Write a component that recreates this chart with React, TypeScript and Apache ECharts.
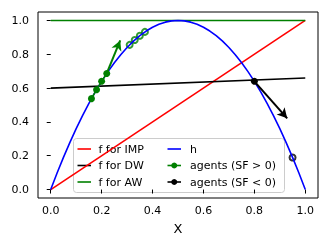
import React, { useEffect, useRef } from "react";
import * as echarts from "echarts";

const xGrid = [
  0, 0.025, 0.05, 0.075, 0.1, 0.125, 0.15, 0.175, 0.2, 0.225, 0.25, 0.275, 0.3, 0.325, 0.35, 0.375, 0.4,
  0.425, 0.45, 0.475, 0.5, 0.525, 0.55, 0.575, 0.6, 0.625, 0.65, 0.675, 0.7, 0.725, 0.75, 0.775, 0.8,
  0.825, 0.85, 0.875, 0.9, 0.925, 0.95, 0.975, 1,
];
const hValues = [
  0, 0.0975, 0.19, 0.2775, 0.36, 0.4375, 0.51, 0.5775, 0.64, 0.6975, 0.75, 0.7975, 0.84, 0.8775, 0.91,
  0.9375, 0.96, 0.9775, 0.99, 0.9975, 1, 0.9975, 0.99, 0.9775, 0.96, 0.9375, 0.91, 0.8775, 0.84, 0.7975,
  0.75, 0.6975, 0.64, 0.5775, 0.51, 0.4375, 0.36, 0.2775, 0.19, 0.0975, 0,
];
const fEnds = [0, 1];
const fIMP = [0, 1];
const fDW = [0.6, 0.66];
const fAW = [1, 1];

const agentsPosX = [0.16, 0.18, 0.2, 0.22];
const agentsPosY = [0.5376, 0.5904, 0.64, 0.6864];
const agentsPosNextX = [0.31, 0.33, 0.35, 0.37];
const agentsPosNextY = [0.8556, 0.8844, 0.91, 0.9324];
const agentsNegX = [0.8];
const agentsNegY = [0.64];
const agentsNegNextX = [0.95];
const agentsNegNextY = [0.19];

const arrowPos = [[0.22, 0.6864], [0.273, 0.882]];
const arrowNeg = [[0.8, 0.64], [0.929, 0.421]];

const tickValues = [0, 0.2, 0.4, 0.6, 0.8, 1.0];

const legendLeft = ["f for IMP", "f for DW", "f for AW"];
const legendLeftColors = ["#ff0000", "#000000", "#008000"];
const legendRight = ["h", "agents (SF > 0)", "agents (SF < 0)"];
const legendRightColors = ["#0000ff", "#008000", "#000000"];

const FONT = "DejaVu Sans";

const zip = (xs: number[], ys: number[]) => xs.map((x, i) => [x, ys[i]]);

export default function App() {
  const ref = useRef<HTMLDivElement>(null);
  useEffect(() => {
    if (!ref.current) return;
    const chart = echarts.init(ref.current, null, { renderer: "svg" });
    const rowsY = [149, 165.5, 182];
    const legendEls: any[] = [
      {
        type: "rect",
        shape: { x: 73.5, y: 138.5, width: 211, height: 54, r: 3 },
        style: { fill: "rgba(255,255,255,0.8)", stroke: "#cccccc", lineWidth: 1 },
      },
    ];
    legendLeft.forEach((t, i) => {
      legendEls.push({
        type: "line",
        shape: { x1: 77.5, y1: rowsY[i], x2: 91, y2: rowsY[i] },
        style: { stroke: legendLeftColors[i], lineWidth: 1.6 },
      });
      legendEls.push({
        type: "text",
        x: 98.5,
        y: rowsY[i],
        style: { text: t, font: `11px "${FONT}"`, fill: "#000", verticalAlign: "middle", align: "left" },
      });
    });
    legendRight.forEach((t, i) => {
      legendEls.push({
        type: "line",
        shape: { x1: 167.5, y1: rowsY[i], x2: 181, y2: rowsY[i] },
        style: { stroke: legendRightColors[i], lineWidth: 1.6 },
      });
      if (i > 0) {
        legendEls.push({
          type: "circle",
          shape: { cx: 174.25, cy: rowsY[i], r: 3 },
          style: { fill: legendRightColors[i] },
        });
      }
      legendEls.push({
        type: "text",
        x: 190,
        y: rowsY[i],
        style: { text: t, font: `11px "${FONT}"`, fill: "#000", verticalAlign: "middle", align: "left" },
      });
    });

    const axisCommon = {
      type: "value" as const,
      min: -0.05,
      max: 1.05,
      splitLine: { show: false },
      axisLine: { show: false },
      axisTick: {
        show: true,
        length: 4,
        customValues: tickValues,
        lineStyle: { color: "#000", width: 1 },
      },
      axisLabel: {
        customValues: tickValues,
        formatter: (v: number) => v.toFixed(1),
        color: "#000",
        fontSize: 11,
        fontFamily: FONT,
      },
    };

    chart.setOption({
      animation: false,
      grid: {
        left: 38,
        top: 12,
        right: 14,
        bottom: 53,
        show: true,
        borderColor: "#000",
        borderWidth: 1,
        backgroundColor: "transparent",
      },
      xAxis: {
        ...axisCommon,
        axisLabel: { ...axisCommon.axisLabel, margin: 7 },
        name: "X",
        nameLocation: "middle",
        nameGap: 24,
        nameTextStyle: { color: "#000", fontSize: 13, fontFamily: FONT },
      },
      yAxis: {
        ...axisCommon,
        axisLabel: { ...axisCommon.axisLabel, margin: 9 },
      },
      series: [
        {
          type: "line",
          data: zip(fEnds, fIMP),
          symbol: "none",
          lineStyle: { color: "#ff0000", width: 1.6 },
        },
        {
          type: "line",
          data: zip(fEnds, fDW),
          symbol: "none",
          lineStyle: { color: "#000000", width: 1.6 },
        },
        {
          type: "line",
          data: zip(fEnds, fAW),
          symbol: "none",
          lineStyle: { color: "#008000", width: 1.6 },
        },
        {
          type: "line",
          data: zip(xGrid, hValues),
          symbol: "none",
          lineStyle: { color: "#0000ff", width: 1.6 },
        },
        {
          type: "line",
          data: zip(agentsPosX, agentsPosY),
          symbol: "circle",
          symbolSize: 7,
          itemStyle: { color: "#008000" },
          lineStyle: { color: "#008000", width: 1.6 },
          markLine: {
            silent: true,
            symbol: ["none", "arrow"],
            symbolSize: [8, 10],
            label: { show: false },
            lineStyle: { color: "#008000", width: 2, type: "solid" },
            data: [[{ coord: arrowPos[0] }, { coord: arrowPos[1] }]],
          },
        },
        {
          type: "scatter",
          data: zip(agentsPosNextX, agentsPosNextY),
          symbol: "emptyCircle",
          symbolSize: 6,
          itemStyle: { color: "#008000", borderColor: "#008000", borderWidth: 1.2 },
        },
        {
          type: "line",
          data: zip(agentsNegX, agentsNegY),
          symbol: "circle",
          symbolSize: 7,
          showSymbol: true,
          itemStyle: { color: "#000000" },
          lineStyle: { color: "#000000", width: 1.6 },
          markLine: {
            silent: true,
            symbol: ["none", "arrow"],
            symbolSize: [8, 10],
            label: { show: false },
            lineStyle: { color: "#000000", width: 2, type: "solid" },
            data: [[{ coord: arrowNeg[0] }, { coord: arrowNeg[1] }]],
          },
        },
        {
          type: "scatter",
          data: zip(agentsNegNextX, agentsNegNextY),
          symbol: "emptyCircle",
          symbolSize: 6,
          itemStyle: { color: "#000000", borderColor: "#000000", borderWidth: 1.2 },
        },
      ],
      graphic: [{ type: "group", z: 100, children: legendEls }],
    });
    return () => chart.dispose();
  }, []);
  return <div ref={ref} style={{ position: "fixed", left: 0, top: 0, width: 332, height: 251 }} />;
}
